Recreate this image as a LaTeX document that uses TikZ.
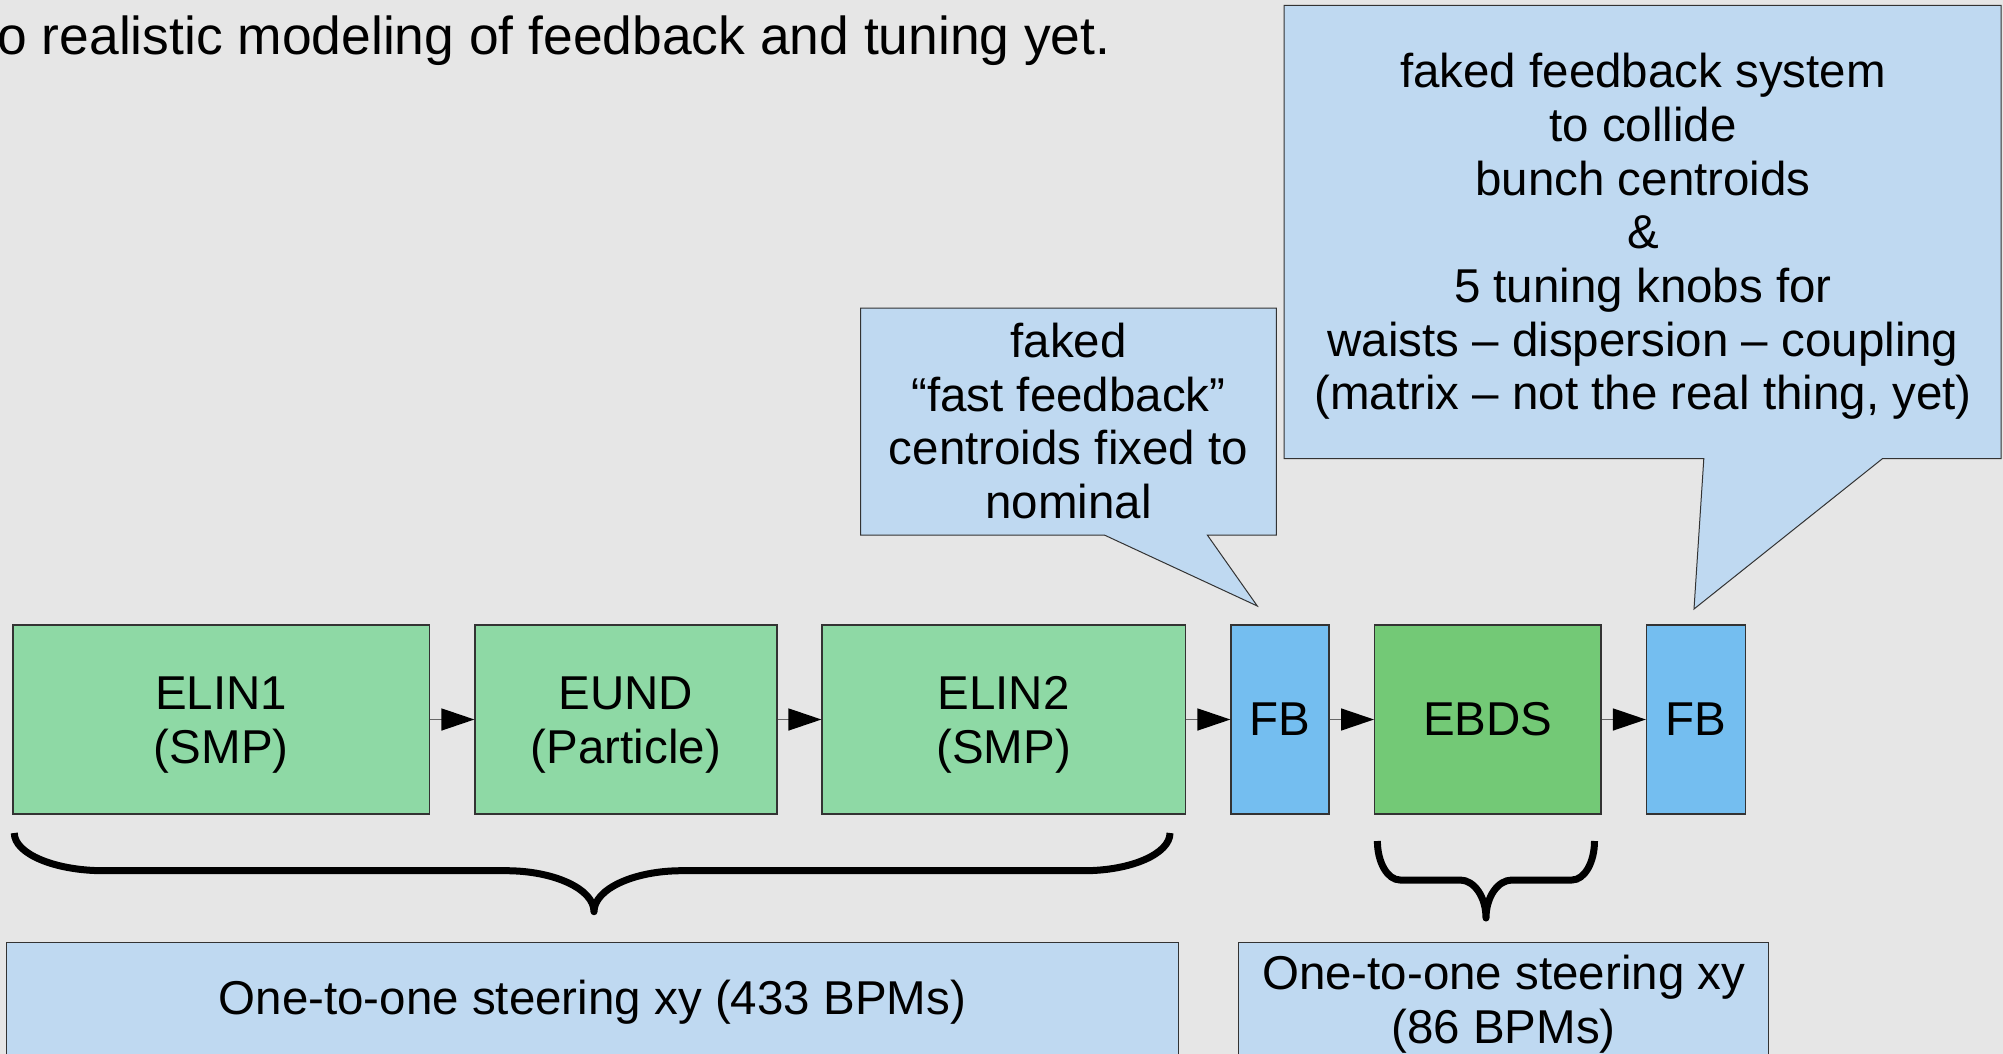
\documentclass[tikz,border=0pt]{standalone}
\usepackage{fontspec}
\setmainfont{Liberation Sans}
\usetikzlibrary{arrows.meta}

\definecolor{bgcol}{HTML}{E6E6E6}
\definecolor{lingreen}{HTML}{8ED9A5}
\definecolor{bdsgreen}{HTML}{73C976}
\definecolor{fbblue}{HTML}{74BEF0}
\definecolor{noteblue}{HTML}{BFD9F1}
\definecolor{edgecol}{HTML}{333333}
\definecolor{flowgray}{HTML}{666666}

\newcommand\boxfont{\fontsize{23.75pt}{26.85pt}\selectfont}
\newcommand\headfont{\fontsize{26.7pt}{30pt}\selectfont}
% taller first line, used to lower a two-line label inside its box
\newcommand\lowerstrut[1]{\rule{0pt}{#1}}

\begin{document}
\begin{tikzpicture}[x=0.5pt,y=-0.5pt,
  stage/.style={draw=edgecol, line width=0.6pt, minimum height=94.5pt,
    inner sep=0pt, align=center, font=\boxfont},
  linac/.style={stage, fill=lingreen},
  bds/.style={stage, fill=bdsgreen},
  fbbox/.style={stage, fill=fbblue},
  note/.style={draw=edgecol, line width=0.6pt, fill=noteblue,
    inner sep=0pt, align=center, font=\boxfont},
  calloutshape/.style={draw=edgecol, line width=0.5pt, fill=noteblue, line join=miter},
  calltext/.style={inner sep=0pt, align=center, font=\boxfont},
  flow/.style={draw=flowgray, line width=0.75pt,
    -{Triangle[length=16.5pt,width=11pt,color=black]}},
  brace/.style={draw=black, line width=3.5pt, line join=round}
]
\useasboundingbox (0,0) rectangle (2003,1054);
\clip (0,0) rectangle (2003,1054);
\fill[bgcol] (0,0) rectangle (2003,1054);

% heading line
\node[inner sep=0pt, anchor=base east, font=\headfont] (head) at (1111,55)
  {o realistic modeling of feedback and tuning yet.};

% beam line stages
\node[linac, minimum width=208.25pt] (elin1) at (221.25,719.5) {\lowerstrut{22pt}ELIN1\\(SMP)};
\node[linac, minimum width=151pt]    (eund)  at (626,719.5)    {\lowerstrut{22pt}EUND\\(Particle)};
\node[linac, minimum width=181.7pt]  (elin2) at (1003.7,719.5) {\lowerstrut{22pt}ELIN2\\(SMP)};
\node[fbbox, minimum width=49pt]     (fb1)   at (1280,719.5)   {FB};
\node[bds,   minimum width=113.2pt]  (ebds)  at (1487.8,719.5) {EBDS};
\node[fbbox, minimum width=49.5pt]   (fb2)   at (1696,719.5)   {FB};

\draw[flow] (elin1) -- (eund);
\draw[flow] (eund) -- (elin2);
\draw[flow] (elin2) -- (fb1);
\draw[flow] (fb1) -- (ebds);
\draw[flow] (ebds) -- (fb2);

% callout for the first feedback
\path[calloutshape] (860.7,308) -- (1276.3,308) -- (1276.3,535) -- (1207.3,535)
  -- (1257.3,606) -- (1104.3,535) -- (860.7,535) -- cycle;
\node[calltext] (fastfb) at (1068.5,421)
  {faked\\“fast feedback”\\centroids fixed to\\nominal};

% callout for the IP feedback
\path[calloutshape] (1284,5.5) -- (2001,5.5) -- (2001,458.7) -- (1882.4,458.7)
  -- (1694,609) -- (1703.8,458.7) -- (1284,458.7) -- cycle;
\node[calltext] (ipfb) at (1643,236.5)
  {faked feedback system\\to collide\\bunch centroids\\\&\\5 tuning knobs for\\waists – dispersion – coupling\\(matrix – not the real thing, yet)};

% braces
\draw[brace] (14.3,833) .. controls (14.3,853.7) and (54.5,870.7) .. (103.6,870.7)
  -- (506,870.7) .. controls (554.4,870.7) and (594,889.1) .. (594,911.7)
  .. controls (594,889.1) and (633.6,870.7) .. (682,870.7)
  -- (1084,870.7) .. controls (1131.3,870.7) and (1170,853.7) .. (1170,833);

\draw[brace] (1377.4,841) .. controls (1377.4,862.5) and (1387.6,880) .. (1400,880)
  -- (1460,880) .. controls (1474.3,880) and (1486,897.1) .. (1486,918)
  .. controls (1486,897.1) and (1497.7,880) .. (1512,880)
  -- (1572,880) .. controls (1584.4,880) and (1594.5,862.5) .. (1594.5,841);

% steering boxes
\node[note, minimum width=585.95pt, minimum height=60pt] (steerA) at (592.35,1002.7)
  {One-to-one steering xy (433 BPMs)};
\node[note, minimum width=264.95pt, minimum height=59.2pt] (steerB) at (1503.65,1001.9)
  {\lowerstrut{19.5pt}One-to-one steering xy\\(86 BPMs)};
\end{tikzpicture}
\end{document}
